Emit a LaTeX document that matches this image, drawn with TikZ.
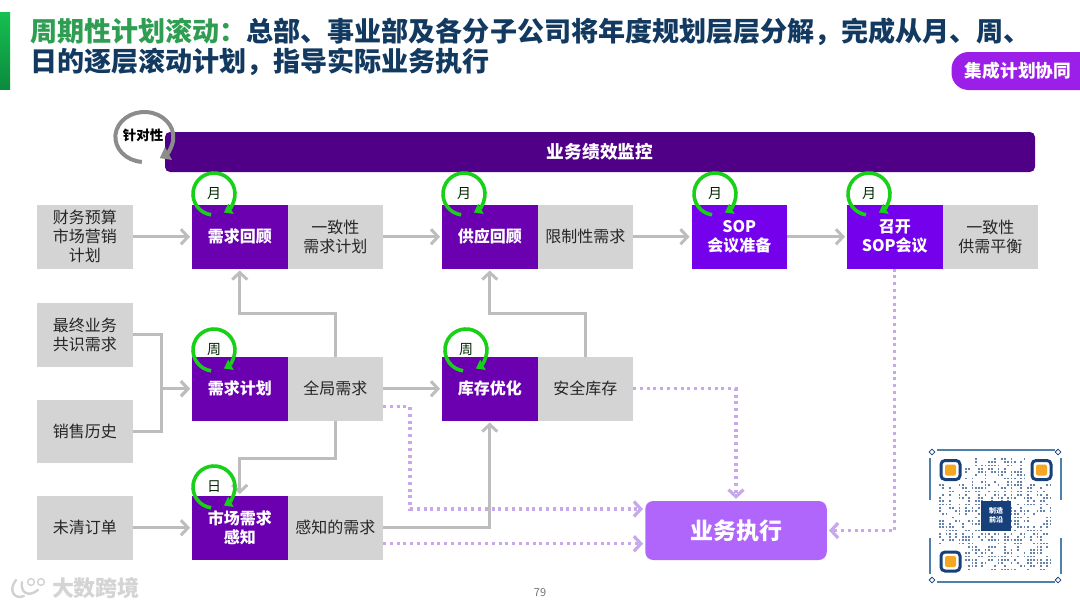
\documentclass[tikz,border=0pt]{standalone}
\usepackage{fontspec}
\setmainfont{Noto Sans CJK SC}
\usepackage{xcolor}
\usepackage{tikz}
\usetikzlibrary{positioning,arrows.meta}
\definecolor{greybox}{HTML}{D4D4D4}
\definecolor{planpurple}{HTML}{6A00B0}
\definecolor{soppurple}{HTML}{7400EC}
\definecolor{barpurple}{HTML}{4F0087}
\definecolor{tagpurple}{HTML}{9B1FE8}
\definecolor{execpurple}{HTML}{B066FB}
\definecolor{flowgrey}{HTML}{BDBDBD}
\definecolor{dotlilac}{HTML}{C8A8EC}
\definecolor{loopgreen}{HTML}{18D018}
\definecolor{titlegreen}{HTML}{2F9E52}
\definecolor{titlenavy}{HTML}{12395F}
\definecolor{stripetop}{HTML}{15C050}
\definecolor{stripeend}{HTML}{0C8A3E}
\definecolor{qrnavy}{HTML}{17407A}
\definecolor{qrblue}{HTML}{4F80AC}
\definecolor{qrorange}{HTML}{F5A623}
\newcommand{\fsz}[1]{\fontsize{#1}{#1}\selectfont}

\begin{document}
\begin{tikzpicture}[
  x=1pt, y=-1pt,
  font=\fsz{16},
  srcbox/.style={fill=greybox, text=black!85, align=center, inner sep=0pt, outer sep=0pt, minimum width=95.5pt, minimum height=63.5pt, font=\fontsize{16}{19}\selectfont},
  planbox/.style={srcbox, fill=planpurple, text=white, font=\fontsize{16}{19}\selectfont\bfseries},
  sopbox/.style={planbox, fill=soppurple},
  arr/.style={-{Straight Barb[length=7pt,width=15pt]}, line width=3pt, flowgrey, shorten >=2pt},
  dotarr/.style={-{Straight Barb[length=7pt,width=15pt]}, line width=3.2pt, dotlilac, dash pattern=on 3pt off 3.8pt, shorten >=2pt},
  cyctext/.style={inner sep=0pt, text=black!75!green!60!black, font=\fsz{14}},
  cycarr/.style={-{Triangle[length=8pt,width=11pt]}, line width=3.6pt, loopgreen}
]
\useasboundingbox (0,0) rectangle (1080,608);

% header
\node[minimum width=10pt, minimum height=77pt, inner sep=0pt, outer sep=0pt, top color=stripetop, bottom color=stripeend] (stripe) at (5,50.5) {};
\node[anchor=west, inner sep=0pt, align=left, font=\fontsize{27.05}{30}\selectfont\bfseries, text=titlenavy] (title) at (30,47) {\textcolor{titlegreen}{周期性计划滚动：}总部、事业部及各分子公司将年度规划层层分解，完成从月、周、\\日的逐层滚动计划，指导实际业务执行};
\fill[tagpurple] (1080,52) [rounded corners=17pt] -- (951.5,52) -- (951.5,90) [sharp corners] -- (1080,90) -- cycle;
\node[text=white, inner sep=0pt, font=\fsz{17.7}\bfseries] (tag) at (1018,71) {集成计划协同};

\node[fill=barpurple, rounded corners=5pt, minimum width=870pt, minimum height=40pt, inner sep=0pt, text=white, font=\fsz{17.7}\bfseries] (monitor) at (600,152) {业务绩效监控};

% top row
\node[srcbox] (budget) at (84.75,236.75) {财务预算\\市场营销\\计划};
\node[planbox, right=59.5pt of budget] (review) {需求回顾};
\node[srcbox, right=0pt of review] (agreed) {一致性\\需求计划};
\node[planbox, right=59pt of agreed] (supply) {供应回顾};
\node[srcbox, right=0pt of supply] (limited) {限制性需求};
\node[sopbox, right=58.5pt of limited] (sopprep) {SOP\\会议准备};
\node[sopbox, right=60pt of sopprep] (sopmeet) {召开\\SOP会议};
\node[srcbox, right=0pt of sopmeet] (balance) {一致性\\供需平衡};

% middle row
\node[srcbox, below=34.5pt of budget] (final) {最终业务\\共识需求};
\node[srcbox, below=33pt of final] (history) {销售历史};
\node[planbox, below=88.5pt of review] (plan) {需求计划};
\node[srcbox, right=0pt of plan] (overall) {全局需求};
\node[planbox, right=59pt of overall] (stock) {库存优化};
\node[srcbox, right=0pt of stock] (safety) {安全库存};

% bottom row
\node[srcbox, below=33pt of history] (orders) {未清订单};
\node[planbox, below=75.5pt of plan] (sense) {市场需求\\感知};
\node[srcbox, right=0pt of sense] (sensed) {感知的需求};
\node[fill=execpurple, rounded corners=8pt, minimum width=181.5pt, minimum height=59pt, inner sep=0pt, text=white, font=\fsz{23}\bfseries] (exec) at (736,530.5) {业务执行};

\draw[arr] (budget) -- (review);
\draw[arr] (agreed) -- (supply);
\draw[arr] (limited) -- (sopprep);
\draw[arr] (sopprep) -- (sopmeet);
\draw[arr] (overall.north) -- ++(0,-44) -| (review.south);
\draw[arr] (safety.north) -- ++(0,-44) -| (supply.south);
\draw[arr] (final.east) -- ++(29,0) |- (plan.west);
\draw[arr] (history.east) -- ++(29,0) |- (plan.west);
\draw[arr] (overall) -- (stock);
\draw[arr] (overall.south) -- ++(0,38) -| (sense.north);
\draw[arr] (orders) -- (sense);
\draw[arr] (sensed.east) -| (stock.south);

\draw[dotarr] ([yshift=-18pt]overall.east) -- ++(27,0) |- ([yshift=21.5pt]exec.west);
\draw[dotarr] ([yshift=-16pt]sensed.east) -- ([yshift=-13.25pt]exec.west);
\draw[dotarr] (safety.east) -| (exec.north);
\draw[dotarr] (sopmeet.south) |- (exec.east);

% cycle marks
\node[inner sep=0pt, font=\fsz{13.5}\bfseries] (focus) at (143,135) {针对性};
\draw[-{Triangle[length=10pt,width=14pt]}, line width=4pt, black!45] ([shift={(265:25pt)}]144,137) arc[start angle=265, end angle=-58, x radius=29pt, y radius=25pt];
\foreach \c/\xc/\yc/\t in {cyca/214/194/月, cycb/464/194/月, cycc/715/194/月, cycd/869/194/月, cyce/214/350/周, cycf/466/350/周, cycg/214/487/日} {
  \node[cyctext] (\c) at (\xc,\yc) {\t};
  \draw[cycarr] ([shift={(262:21pt)}]\c.center) arc[start angle=262, end angle=-62, radius=21pt];
}

% qr code
\fill[white] (927,447) rectangle (1063,585);
\draw[qrblue, line width=2pt] (937,449.5) -- (1055,449.5);
\draw[qrblue, line width=2pt] (937,581.5) -- (1055,581.5);
\draw[qrblue, line width=2pt] (929.5,458) -- (929.5,500) (929.5,538) -- (929.5,574);
\draw[qrblue, line width=2pt] (1061,458) -- (1061,500) (1061,538) -- (1061,574);
\foreach \xc/\yc in {932/452, 1058/452, 932/580, 1058/580}
  \draw[qrnavy, line width=.8pt, rotate around={45:(\xc,\yc)}] (\xc-2,\yc-2) rectangle (\xc+2,\yc+2);
\pgfmathsetseed{79}
\foreach \i in {0,...,34} {
  \foreach \j in {0,...,34} {
    \pgfmathsetmacro{\px}{940+3.25*\i}
    \pgfmathsetmacro{\py}{459+3.25*\j}
    \pgfmathtruncatemacro{\keep}{rnd<0.5 ? 1 : 0}
    \pgfmathtruncatemacro{\hide}{((\i<8 && \j<8) || (\i>26 && \j<8) || (\i<8 && \j>26)) ? 1 : 0}
    \ifnum\keep=1 \ifnum\hide=0
      \fill[qrnavy!65!white] (\px-.95,\py-.95) rectangle (\px+.95,\py+.95);
    \fi\fi
  }
}
\foreach \xc/\yc in {950.5/470, 1041.5/470, 950.5/561.5} {
  \draw[qrnavy, line width=3pt, rounded corners=4pt, fill=white] (\xc-9.5,\yc-9.5) rectangle (\xc+9.5,\yc+9.5);
  \fill[qrorange, rounded corners=2pt] (\xc-5.5,\yc-5.5) rectangle (\xc+5.5,\yc+5.5);
}
\node[fill=qrnavy, text=white, minimum width=30pt, minimum height=30pt, inner sep=0pt, align=center, font=\fontsize{7}{8.5}\selectfont\bfseries] (qrlogo) at (996,515.5) {制造\\前沿};

% footer
\node[text=black!55, inner sep=0pt, font=\fsz{11}] (page) at (540,593) {79};
\draw[black!18, line width=2.4pt, line cap=round] (16,580) .. controls (8,590) and (14,600) .. (24,596) (22,582) .. controls (20,592) and (28,598) .. (38,590);
\draw[black!18, line width=1.4pt] (31,582) circle[radius=3.4pt] (41,582) circle[radius=3.4pt];
\node[text=black!17, inner sep=0pt, font=\fsz{22}\bfseries] (mark) at (96,588) {大数跨境};
\end{tikzpicture}
\end{document}
